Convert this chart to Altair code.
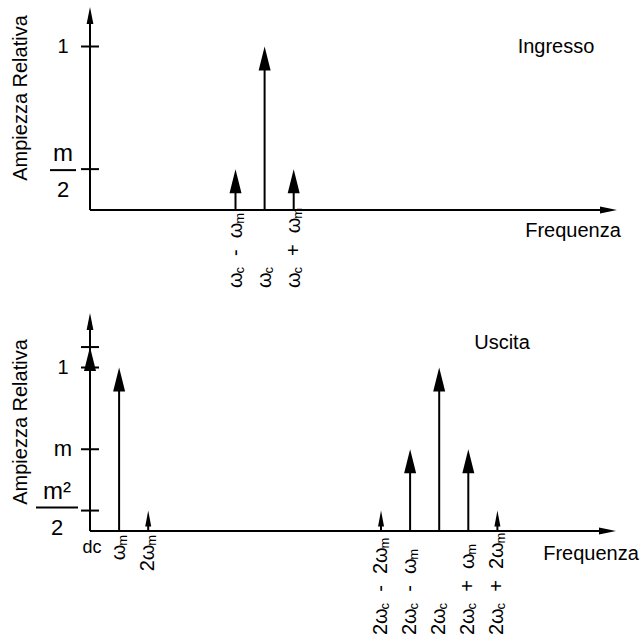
import altair as alt
import pandas as pd

FONT = "Liberation Sans"

# ---------------- data ----------------
# frequencies in units of omega_m (omega_c = 6 omega_m), amplitudes relative
top_freq = [5, 6, 7]
top_amp = [0.25, 1.0, 0.25]
top_head = ["big", "big", "big"]
top_labels = ["ω_c  -  ω_m", "ω_c", "ω_c  +  ω_m"]

bot_freq = [0, 1, 2, 10, 11, 12, 13, 14]
bot_amp = [1.125, 1.0, 0.125, 0.125, 0.5, 1.0, 0.5, 0.125]
bot_head = ["big", "big", "small", "small", "big", "big", "big", "small"]
bot_labels = ["dc", "ω_m", "2ω_m", "2ω_c  -  2ω_m", "2ω_c  -  ω_m", "2ω_c",
              "2ω_c  +  ω_m", "2ω_c  +  2ω_m"]

top_tick_vals = [1.0, 0.25]
top_tick_text = ["1", "m/2"]
bot_tick_vals = [1.125, 1.0, 0.5, 0.125]
bot_tick_text = ["", "1", "m", "m²/2"]

titles = {"y": "Ampiezza Relativa", "x": "Frequenza", "top": "Ingresso", "bot": "Uscita"}

# ---------------- layout ----------------
W, TOP_H, BOT_H = 643, 300, 340
PPU, XPU, X0 = 163.5, 29.1, 90
TOP_BASE, BOT_BASE = 210, 231
XDOM = [-X0 / XPU, (W - X0) / XPU]
HEAD = {"big": dict(h=24, path="M0,0L-0.25,1L0.25,1Z", size=(2 * 24) ** 2),
        "small": dict(h=16, path="M0,0L-0.1875,1L0.1875,1Z", size=(2 * 16) ** 2)}
AX_V = dict(h=17, path="M0,0L-0.2,1L0.2,1Z", size=(2 * 17) ** 2)
AX_H = dict(h=17, path="M0,0L-1,-0.2L-1,0.2Z", size=(2 * 17) ** 2)
EM = {'2': 0.556, 'ω': 0.72, 'c': 0.5, 'm': 0.833, ' ': 0.278, '-': 0.333, '+': 0.584}
MAIN_FS, SUB_FS = 20, 13


def px2x(px):
    return (px - X0) / XPU


def px2y(px, base):
    return (base - px) / PPU


def segments(label):
    segs = []
    state = {"cur": "", "start": 0.0}
    adv = 0.0

    def flush():
        if state["cur"]:
            segs.append((state["cur"], False, state["start"]))
            state["cur"] = ""

    i = 0
    while i < len(label):
        ch = label[i]
        if ch == "_":
            flush()
            s = label[i + 1]
            segs.append((s, True, adv))
            adv += EM[s] * SUB_FS
            i += 2
            continue
        if ch == " ":
            flush()
            adv += EM[' '] * MAIN_FS
        else:
            if not state["cur"]:
                state["start"] = adv
            state["cur"] += ch
            adv += EM[ch] * MAIN_FS
        i += 1
    flush()
    return segs, adv


def label_frames(freqs, labels, base, anchor_of):
    main, sub = [], []
    for f, lab in zip(freqs, labels):
        mode, apx = anchor_of(lab)
        if mode is None:
            continue
        segs, total = segments(lab)
        start = apx if mode == "start" else apx + total
        for text, is_sub, a in segs:
            (sub if is_sub else main).append(dict(x=f, y=px2y(start - a, base), text=text))
    return pd.DataFrame(main), pd.DataFrame(sub)


def spike_frames(freqs, amps, heads):
    lines, hd = [], {"big": [], "small": []}
    for f, a, k in zip(freqs, amps, heads):
        lines.append(dict(x=f, x2=f, y=0.0, y2=a - (HEAD[k]["h"] - 2) / PPU))
        hd[k].append(dict(x=f, y=a))
    return lines, {k: pd.DataFrame(v) for k, v in hd.items()}


def panel(h, base, lines, heads, vtip_px, htip_px, texts, lab_main, lab_sub):
    X = alt.X("x:Q", scale=alt.Scale(domain=XDOM, nice=False, zero=False), axis=None)
    Y = alt.Y("y:Q", scale=alt.Scale(domain=[-(h - base) / PPU, base / PPU], nice=False, zero=False),
              axis=None)
    vt = px2y(vtip_px, base)
    ht = px2x(htip_px)
    lines = lines + [dict(x=0.0, x2=0.0, y=0.0, y2=px2y(vtip_px + AX_V["h"] - 2, base)),
                     dict(x=0.0, x2=px2x(htip_px - AX_H["h"] + 2), y=0.0, y2=0.0)]
    layers = [alt.Chart(pd.DataFrame(lines)).mark_rule(color="black", strokeWidth=2).encode(
        x=X, x2="x2:Q", y=Y, y2="y2:Q")]
    for k, df in heads.items():
        if len(df):
            layers.append(alt.Chart(df).mark_point(shape=HEAD[k]["path"], size=HEAD[k]["size"],
                                                   filled=True, color="black", opacity=1).encode(x=X, y=Y))
    layers.append(alt.Chart(pd.DataFrame([dict(x=0.0, y=vt)])).mark_point(
        shape=AX_V["path"], size=AX_V["size"], filled=True, color="black", opacity=1).encode(x=X, y=Y))
    layers.append(alt.Chart(pd.DataFrame([dict(x=ht, y=0.0)])).mark_point(
        shape=AX_H["path"], size=AX_H["size"], filled=True, color="black", opacity=1).encode(x=X, y=Y))
    layers.append(alt.Chart(pd.DataFrame(texts)).mark_text(
        font=FONT, align="center", baseline="middle", color="black").encode(
        x=X, y=Y, text="text:N", size=alt.Size("size:Q", scale=None),
        angle=alt.Angle("angle:Q", scale=None)))
    layers.append(alt.Chart(lab_main).mark_text(
        font=FONT, align="left", baseline="middle", angle=270, fontSize=MAIN_FS, color="black").encode(
        x=X, y=Y, text="text:N"))
    layers.append(alt.Chart(lab_sub).mark_text(
        font=FONT, align="left", baseline="middle", angle=270, fontSize=SUB_FS, dy=4,
        color="black").encode(x=X, y=Y, text="text:N"))
    return alt.layer(*layers).properties(width=W, height=h)


def tick_parts(vals, texts, base, frac_shift, frac_cx, frac_half):
    lines, tx = [], []
    for v, t in zip(vals, texts):
        lines.append(dict(x=px2x(81), x2=px2x(99), y=v, y2=v))
        if not t:
            continue
        ypx = base - v * PPU
        if "/" in t:
            num, den = t.split("/")
            ly = ypx + frac_shift
            lines.append(dict(x=px2x(frac_cx - frac_half), x2=px2x(frac_cx + frac_half),
                              y=px2y(ly, base), y2=px2y(ly, base)))
            tx.append(dict(x=px2x(frac_cx), y=px2y(ly - 16, base), text=num, size=24, angle=0))
            tx.append(dict(x=px2x(frac_cx), y=px2y(ly + 20, base), text=den, size=22, angle=0))
        else:
            tx.append(dict(x=px2x(63), y=v, text=t, size=22 if t == "m" else 20, angle=0))
    return lines, tx


# ---------- top panel ----------
t_lines, t_heads = spike_frames(top_freq, top_amp, top_head)
tk_lines, tk_txt = tick_parts(top_tick_vals, top_tick_text, TOP_BASE, 1, 63, 13)
t_texts = tk_txt + [
    dict(x=px2x(21), y=px2y(98, TOP_BASE), text=titles["y"], size=20, angle=270),
    dict(x=px2x(556), y=px2y(47, TOP_BASE), text=titles["top"], size=20, angle=0),
    dict(x=px2x(573), y=px2y(231, TOP_BASE), text=titles["x"], size=20, angle=0),
]
t_main, t_sub = label_frames(top_freq, top_labels, TOP_BASE, lambda lab: ("start", 288))
top = panel(TOP_H, TOP_BASE, t_lines + tk_lines, t_heads, 7, 617, t_texts, t_main, t_sub)

# ---------- bottom panel ----------
b_lines, b_heads = spike_frames(bot_freq, bot_amp, bot_head)
bk_lines, bk_txt = tick_parts(bot_tick_vals, bot_tick_text, BOT_BASE, -3, 57, 21)
b_texts = bk_txt + [
    dict(x=px2x(21), y=px2y(122, BOT_BASE), text=titles["y"], size=20, angle=270),
    dict(x=px2x(502), y=px2y(43, BOT_BASE), text=titles["bot"], size=20, angle=0),
    dict(x=px2x(591), y=px2y(254, BOT_BASE), text=titles["x"], size=20, angle=0),
]


def bot_anchor(lab):
    if lab == "dc":
        return None, 0
    if not lab.startswith("2ω_c"):
        return "end", 235
    return "start", 335


for f, lab in zip(bot_freq, bot_labels):
    if lab == "dc":
        b_texts.append(dict(x=px2x(92), y=px2y(248, BOT_BASE), text=lab, size=18, angle=0))
b_main, b_sub = label_frames(bot_freq, bot_labels, BOT_BASE, bot_anchor)
bot = panel(BOT_H, BOT_BASE, b_lines + bk_lines, b_heads, 13, 616, b_texts, b_main, b_sub)

chart = alt.vconcat(top, bot, spacing=0).properties(padding=0, background="white").configure_view(
    stroke=None)

chart.save("out.html", embed_options={"renderer": "svg", "actions": False})
